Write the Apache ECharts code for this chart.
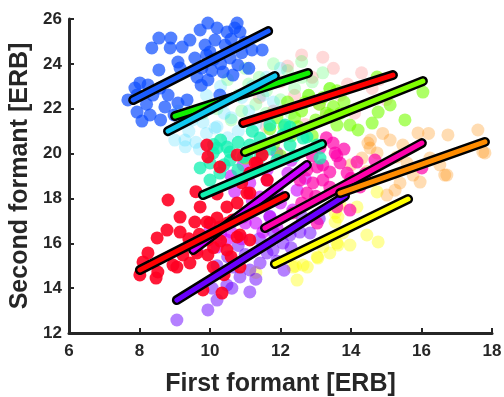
<!DOCTYPE html>
<html><head><meta charset="utf-8">
<script src="https://cdn.jsdelivr.net/npm/echarts@6/dist/echarts.min.js"></script>
<style>html,body{margin:0;padding:0;background:#fff}#c{width:504px;height:397px}</style>
</head><body><div id="c"></div>
<script>
const xTicks = [6, 8, 10, 12, 14, 16, 18];
const yTicks = [12, 14, 16, 18, 20, 22, 24, 26];

const ptsBlue = [[8.35,24.71],[8.55,25.15],[8.89,25.15],[8.87,24.71],[9.21,24.75],[9.09,24.08],[8.55,23.73],[9.15,23.81],[9.57,24.26],[9.72,25.51],[9.94,25.82],[10.20,25.60],[10.48,25.42],[10.77,25.82],[10.85,25.42],[9.86,24.84],[10.00,24.53],[9.77,23.81],[9.63,23.41],[9.94,23.28],[10.57,24.26],[10.79,23.95],[11.19,24.62],[11.48,24.62],[10.37,23.64],[10.65,23.50],[8.01,23.15],[8.24,23.06],[7.93,22.61],[8.38,22.61],[8.81,22.61],[7.93,21.85],[8.30,21.72],[8.72,22.08],[9.09,22.25],[9.35,22.39],[8.98,21.72],[8.07,21.45],[10.28,22.61],[7.67,22.39],[7.87,22.92],[8.58,22.92],[10.14,25.06],[10.43,24.84],[9.43,25.06],[10.99,24.97],[10.1,24.2],[10.3,24.0],[9.9,24.4],[10.6,25.1],[10.9,24.5],[11.1,23.8],[9.75,23.05],[10.05,23.7],[8.2,22.2],[8.6,21.5],[9.3,21.6],[10.7,25.6]];
const ptsCyan = [[9.0,20.6],[9.3,20.3],[9.6,20.5],[9.9,20.9],[10.2,21.2],[9.5,21.5],[9.1,21.9],[10.4,22.3],[10.6,21.6],[10.9,22.5],[11.2,23.0],[11.5,22.6],[10.0,22.0],[9.7,20.2],[10.8,21.0],[11.1,21.9],[11.6,23.4],[10.3,23.0],[9.4,21.0],[10.5,20.7],[11.8,22.3],[12.0,23.8],[9.29,20.6],[10.14,21.14],[9.8,21.4],[10.4,21.8],[9.9,22.6],[11.3,21.3]];
const ptsGreen = [[10.5,23.3],[11.0,23.8],[11.4,23.4],[11.8,24.0],[12.2,23.7],[12.6,24.1],[12.9,23.2],[13.2,23.6],[11.6,22.8],[12.0,22.4],[12.4,22.9],[10.8,22.6],[10.2,22.0],[11.3,22.2],[12.8,22.6],[13.4,22.9],[11.9,23.2],[10.6,21.5],[9.8,21.8],[12.3,21.8],[11.1,23.1],[10.9,21.9],[11.6,21.8],[12.6,23.4]];
const ptsRedTop = [[12.2,23.9],[12.6,24.4],[13.2,24.3],[13.5,23.8],[12.9,23.4],[13.9,23.1],[14.3,23.6],[14.6,22.9],[12.4,22.6],[13.1,22.2],[13.7,22.6],[11.8,21.9],[11.4,22.5],[14.1,21.8],[12.0,23.2],[13.3,21.7],[14.8,23.3],[11.6,21.2],[12.7,21.3],[15.0,22.4]];
const ptsLime = [[14.74,23.41],[15.11,22.17],[14.77,21.85],[15.53,21.50],[14.6,21.36],[14.2,21.05],[13.97,21.27],[16.04,22.74],[13.6,21.27],[13.4,21.72],[12.8,22.6],[13.1,22.2],[13.4,22.9],[13.0,21.5],[12.6,21.9],[12.2,22.3],[11.9,21.6],[12.5,21.2],[13.3,21.8],[13.8,22.3],[12.3,20.8],[11.8,20.4],[11.4,20.2],[12.0,19.9],[12.9,20.8],[13.6,22.8],[11.0,19.8],[11.7,21.1],[12.7,22.3],[13.2,22.5],[12.4,21.6],[13.7,21.8],[12.1,21.2],[13.5,22.1]];
const ptsAqua = [[12.27,21.18],[12.07,20.83],[11.42,20.69],[11.13,20.38],[11.05,19.94],[10.20,20.25],[10.57,20.07],[12.27,20.38],[12.64,20.69],[13.04,20.38],[10.48,20.29],[10.09,20.03],[10.00,19.58],[10.28,19.13],[10.00,18.82],[10.57,19.71],[10.94,19.85],[11.42,19.85],[12.75,20.74],[13.12,19.80],[12.13,21.27],[11.70,21.27],[9.72,19.36],[10.79,19.27],[10.3,20.6],[10.8,20.5],[11.7,20.2],[10.4,19.5],[11.2,21.0],[12.4,19.9],[10.1,20.4],[11.9,19.7]];
const ptsRedLow = [[8.81,17.93],[9.15,17.17],[9.57,16.95],[9.72,17.62],[9.91,20.38],[9.94,19.85],[10.28,19.40],[10.77,19.94],[9.91,16.95],[10.20,17.13],[8.78,16.59],[9.15,16.50],[8.50,16.24],[8.24,15.57],[8.10,15.17],[8.01,14.59],[8.52,14.72],[8.95,15.03],[9.23,15.48],[9.63,15.57],[9.94,16.15],[10.28,16.73],[10.0,16.90],[10.65,17.04],[10.77,16.28],[10.48,15.70],[10.77,17.80],[10.48,17.62],[11.05,18.24],[11.33,19.58],[11.13,19.13],[10.85,16.37],[11.13,16.15],[10.85,14.94],[10.34,13.78],[9.80,13.92],[9.06,14.94],[9.43,15.12],[8.47,14.45],[10.09,14.94],[9.94,15.48],[11.48,19.94],[11.28,19.58],[11.13,18.24],[11.62,18.82],[10.3,16.1],[10.6,15.4],[9.7,16.4],[10.1,15.8],[9.4,16.2],[10.5,16.9],[10.2,18.2],[10.9,18.7],[9.6,18.3],[10.4,14.6]];
const ptsPurple = [[10.94,19.49],[11.13,18.69],[11.62,18.82],[11.42,18.06],[10.2,15.83],[10.48,16.15],[10.94,17.17],[11.7,17.17],[9.63,15.70],[11.13,19.13],[11.62,19.27],[11.9,20.03],[12.21,19.13],[12.47,18.37],[11.9,18.37],[12.35,17.48],[11.0,16.9],[10.6,16.5],[11.42,17.62],[11.9,16.7],[10.7,18.3],[11.2,17.9],[10.3,16.4],[10.9,16.2],[11.5,16.5],[12.0,17.8],[12.7,18.9],[12.3,19.7],[10.6,19.0],[11.3,16.9],[10.0,16.6],[11.8,18.0]];
const ptsViolet = [[9.06,12.58],[9.94,13.03],[10.2,13.47],[10.48,14.14],[11.13,13.83],[10.06,14.0],[10.62,14.0],[11.13,14.81],[11.42,15.12],[11.62,15.57],[11.79,15.7],[12.07,16.01],[12.27,16.37],[12.55,16.50],[12.84,16.46],[10.65,14.94],[10.85,14.5],[11.7,17.2],[11.8,16.5],[10.2,15.0],[11.0,15.5],[11.4,16.2],[11.9,15.2],[12.3,15.8],[10.8,15.9],[11.3,14.4],[10.5,15.4],[12.6,17.2],[13.1,17.1],[12.1,14.8]];
const ptsPink = [[13.49,20.47],[13.04,19.40],[13.4,19.18],[13.69,19.58],[13.89,19.13],[13.2,18.82],[12.92,18.69],[12.75,18.24],[13.6,19.9],[13.97,17.48],[13.6,17.62],[14.17,19.62],[13.12,20.25],[12.75,19.27],[12.55,18.82],[13.55,20.03],[13.2,19.49],[14.68,19.71],[16.01,19.36],[14.26,18.51],[13.8,20.2],[12.35,17.35],[13.04,16.90],[11.42,17.75],[13.0,18.1],[13.4,18.5],[12.9,19.9],[14.0,18.9],[13.7,18.2],[12.6,17.8],[14.4,19.1],[13.3,20.7]];
const ptsOrange = [[15.9,20.92],[16.75,20.83],[15.11,20.6],[14.48,20.47],[15.47,20.38],[14.74,20.03],[14.31,19.8],[14.54,20.25],[15.3,19.85],[15.59,19.58],[16.24,19.8],[16.52,19.49],[16.72,19.04],[15.76,19.04],[15.96,18.73],[15.39,18.69],[15.25,18.37],[15.02,18.15],[17.74,20.07],[17.6,21.05],[16.2,20.9],[14.0,19.5],[14.45,19.2],[17.8,20.03],[16.66,19.04],[14.9,20.9],[14.55,20.6]];
const ptsYellow = [[12.47,14.36],[12.36,14.94],[12.64,15.03],[13.04,15.39],[13.4,15.57],[13.6,16.01],[13.77,16.46],[13.2,15.84],[13.55,17.35],[13.69,17.7],[12.76,14.94],[12.42,14.98],[13.06,15.34],[13.63,15.92],[13.97,15.92],[14.45,16.37],[14.77,16.06],[13.63,17.17],[14.17,17.62],[14.74,18.29],[13.55,16.95],[11.3,14.7]];

const lineBlue = [[7.82,22.39],[11.65,25.46]];
const lineCyan = [[8.81,21.0],[11.84,23.46]];
const lineGreen = [[9.01,21.67],[12.78,23.59]];
const lineRedTop = [[10.94,21.36],[15.19,23.50]];
const lineLime = [[10.99,20.07],[16.04,23.23]];
const lineAqua = [[9.80,18.15],[13.18,20.43]];
const lineRedLow = [[8.01,14.81],[12.13,18.11]];
const linePurple = [[9.52,15.70],[12.75,19.49]];
const lineViolet = [[9.06,13.47],[13.83,18.11]];
const linePink = [[11.56,16.68],[16.01,20.47]];
const lineOrange = [[13.69,18.24],[17.80,20.52]];
const lineYellow = [[11.84,15.08],[15.62,17.97]];

const groups = [
  {pts: ptsYellow, line: lineYellow, pc: '#ffff00', po: 0.4, lc: '#ffff00'},
  {pts: ptsOrange, line: lineOrange, pc: '#ff8c00', po: 0.3, lc: '#ff8c00'},
  {pts: ptsViolet, line: lineViolet, pc: '#6a00ff', po: 0.5, lc: '#6a00ff'},
  {pts: ptsPurple, line: linePurple, pc: '#cc00ff', po: 0.6, lc: '#cc00ff'},
  {pts: ptsPink, line: linePink, pc: '#ff00aa', po: 0.7, lc: '#ff00aa'},
  {pts: ptsRedTop, line: lineRedTop, pc: '#ff0000', po: 0.15, lc: '#ff0000'},
  {pts: ptsGreen, line: lineGreen, pc: '#00ff22', po: 0.2, lc: '#11ee00'},
  {pts: ptsCyan, line: lineCyan, pc: '#00ccff', po: 0.2, lc: '#10c8f0'},
  {pts: ptsLime, line: lineLime, pc: '#77ff00', po: 0.6, lc: '#80ff00'},
  {pts: ptsAqua, line: lineAqua, pc: '#10f0b0', po: 0.75, lc: '#10f0b0'},
  {pts: ptsRedLow, line: lineRedLow, pc: '#ff0022', po: 0.9, lc: '#ff0000'},
  {pts: ptsBlue, line: lineBlue, pc: '#0a4bff', po: 0.7, lc: '#1a5cff'}
];

const series = [];
groups.forEach(g => {
  series.push({type: 'scatter', data: g.pts, symbolSize: 13, silent: true,
    itemStyle: {color: g.pc, opacity: g.po}, z: 2});
});
const lineOrder = [lineViolet, linePurple, lineRedLow, lineYellow, linePink, lineOrange, lineAqua, lineLime, lineRedTop, lineGreen, lineCyan, lineBlue];
lineOrder.forEach(l => {
  const g = groups.find(q => q.line === l);
  series.push({type: 'line', data: l, symbol: 'none', silent: true, z: 3,
    lineStyle: {color: '#000', width: 10, cap: 'round'}});
  series.push({type: 'line', data: l, symbol: 'none', silent: true, z: 3,
    lineStyle: {color: g.lc, width: 5, cap: 'round'}});
});

const axisCol = '#262626';
const chart = echarts.init(document.getElementById('c'), null, {renderer: 'canvas'});
chart.setOption({
  animation: false,
  grid: {left: 69, right: 12, top: 19, bottom: 64, containLabel: false, outerBoundsMode: 'none'},
  xAxis: {type: 'value', min: xTicks[0], max: xTicks[xTicks.length-1], interval: 2,
    name: 'First formant [ERB]', nameLocation: 'middle', nameGap: 39,
    nameTextStyle: {fontSize: 25, fontWeight: 'bold', color: axisCol, fontFamily: 'Liberation Sans, Arial'},
    axisLine: {lineStyle: {color: axisCol, width: 3}},
    axisTick: {inside: true, length: 5, lineStyle: {width: 2, color: axisCol}},
    axisLabel: {fontSize: 17, fontWeight: 'bold', color: axisCol, margin: 10, fontFamily: 'Liberation Sans, Arial'},
    splitLine: {show: false}},
  yAxis: {type: 'value', min: yTicks[0], max: yTicks[yTicks.length-1], interval: 2,
    name: 'Second formant [ERB]', nameLocation: 'middle', nameGap: 31,
    nameTextStyle: {fontSize: 25, fontWeight: 'bold', color: axisCol, fontFamily: 'Liberation Sans, Arial'},
    axisLine: {lineStyle: {color: axisCol, width: 3}},
    axisTick: {inside: true, length: 5, lineStyle: {width: 2, color: axisCol}},
    axisLabel: {fontSize: 17, fontWeight: 'bold', color: axisCol, margin: 7, fontFamily: 'Liberation Sans, Arial'},
    splitLine: {show: false}},
  series: series
});
</script></body></html>
